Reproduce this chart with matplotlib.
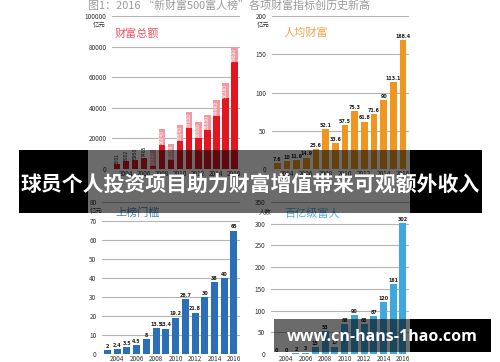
import numpy as np
import matplotlib
matplotlib.use("Agg")
import matplotlib.pyplot as plt
from matplotlib.patches import Rectangle

plt.rcParams['font.family'] = ['Noto Sans CJK SC', 'DejaVu Sans']

W, H = 500, 362

years = list(range(2003, 2017))
even_years = list(range(2004, 2017, 2))

total_wealth = [3001, 5002, 5950, 7465, 12340, 26040, 16160, 28540, 37050, 30500, 35500, 44960, 56380, 79800]
per_capita = [7.6, 10, 11.9, 14.9, 25.6, 52.1, 33.6, 57.5, 75.3, 61.8, 71.6, 90, 113.1, 168.4]
threshold = [2, 2.4, 3.5, 4.5, 8, 13.5, 13.4, 19.2, 28.7, 21.8, 30, 38, 40, 65]
billionaires = [0, 0, 2, 3, 15, 53, 17, 68, 90, 68, 87, 120, 161, 302]

main_title = "图1：2016 “新财富500富人榜”各项财富指标创历史新高"
banner_text = "球员个人投资项目助力财富增值带来可观额外收入"
url_text = "www.cn-hans-1hao.com"

label_font = ['Liberation Sans Narrow', 'DejaVu Sans']


def fx(x):
    return x / W


def fy(y):
    return 1 - y / H


def make_ax(fig, left, right, top, bottom):
    return fig.add_axes([fx(left), fy(bottom), (right - left) / W, (bottom - top) / H])


def fmt(v):
    return ("%g" % v)


def draw_panel(ax, values, color, ymax, step, rotated=False):
    ax.bar(years, values, width=0.72, color=color, zorder=3)
    ax.set_xlim(2002.45, 2016.62)
    ax.set_ylim(0, ymax)
    ax.set_yticks(np.arange(0, ymax + 1, step))
    ax.set_xticks(even_years)
    ax.tick_params(length=0, labelsize=4.6, colors='#333333', pad=4)
    ax.tick_params(axis='x', pad=0.8)
    for s in ax.spines.values():
        s.set_visible(False)
    ax.grid(axis='y', color='#b5b5b5', lw=0.8, zorder=0)
    ax.set_axisbelow(True)
    for yr, v in zip(years, values):
        if rotated:
            if v < 10000:
                ax.text(yr, v + ymax * 0.005, fmt(v), rotation=90, ha='center', va='bottom',
                        fontsize=3.6, color='#222222', zorder=4, family=label_font,
                        fontstretch='condensed')
            else:
                ax.text(yr, v - ymax * 0.005, fmt(v), rotation=90, ha='center', va='top',
                        fontsize=3.6, color='white', zorder=4, family=label_font,
                        fontstretch='condensed',
                        bbox=dict(boxstyle='square,pad=0.15', fc='#f29aa3', ec='none'))
        else:
            ax.text(yr, v + ymax * 0.008, fmt(v), ha='center', va='bottom',
                    fontsize=3.9, color='#222222', fontweight='bold', zorder=4,
                    family=label_font, fontstretch='condensed')


fig = plt.figure(figsize=(5, 3.62), dpi=100)

fig.text(fx(88), fy(6), main_title, fontsize=7.9, color='#9a9a9a', ha='left', va='center')

ax1 = make_ax(fig, 112, 240, 16, 169)
draw_panel(ax1, total_wealth, '#e3151f', 100000, 20000, rotated=True)
ax2 = make_ax(fig, 272, 409, 16, 169)
draw_panel(ax2, per_capita, '#f0961e', 200, 50)
ax3 = make_ax(fig, 102, 240, 202, 354)
draw_panel(ax3, threshold, '#2b6fb6', 80, 10)
ax4 = make_ax(fig, 271, 409, 202, 354)
draw_panel(ax4, billionaires, '#3ea8df', 350, 50)

# units and panel titles
fig.text(fx(99), fy(25), "亿元", fontsize=4.6, color='#333333', ha='center', va='center')
fig.text(fx(263), fy(25), "亿元", fontsize=4.6, color='#333333', ha='center', va='center')
fig.text(fx(96), fy(211), "亿元", fontsize=4.6, color='#333333', ha='center', va='center')
fig.text(fx(265), fy(211), "人数", fontsize=4.6, color='#333333', ha='center', va='center')

fig.text(fx(115), fy(33), "财富总额", fontsize=8, color='#ee5664', ha='left', va='center')
fig.text(fx(284), fy(33), "人均财富", fontsize=8, color='#f4a34a', ha='left', va='center')
fig.text(fx(115), fy(213), "上榜门槛", fontsize=8, color='#4f88c6', ha='left', va='center')
fig.text(fx(284), fy(213), "百亿级富人", fontsize=8, color='#59b3e2', ha='left', va='center')


# overlay banners
def band(x0, x1, y0, y1, alpha):
    fig.patches.append(Rectangle((fx(x0), fy(y1)), (x1 - x0) / W, (y1 - y0) / H,
                                 transform=fig.transFigure, color='black', alpha=alpha,
                                 lw=0, zorder=10))


band(19, 88, 150, 213, 1.0)
band(88, 410, 150, 213, 0.58)
band(410, 482, 150, 213, 1.0)
fig.text(fx(250), fy(184), banner_text, fontsize=15, color='white', fontweight='bold',
         ha='center', va='center', zorder=11)

band(274, 410, 319, 352, 0.58)
band(410, 491, 319, 352, 1.0)
fig.text(fx(382), fy(337), url_text, fontsize=11.5, color='white', fontweight='bold',
         ha='center', va='center', zorder=11, family=['Open Sans', 'DejaVu Sans'])

fig.savefig("out.png", dpi=100)
